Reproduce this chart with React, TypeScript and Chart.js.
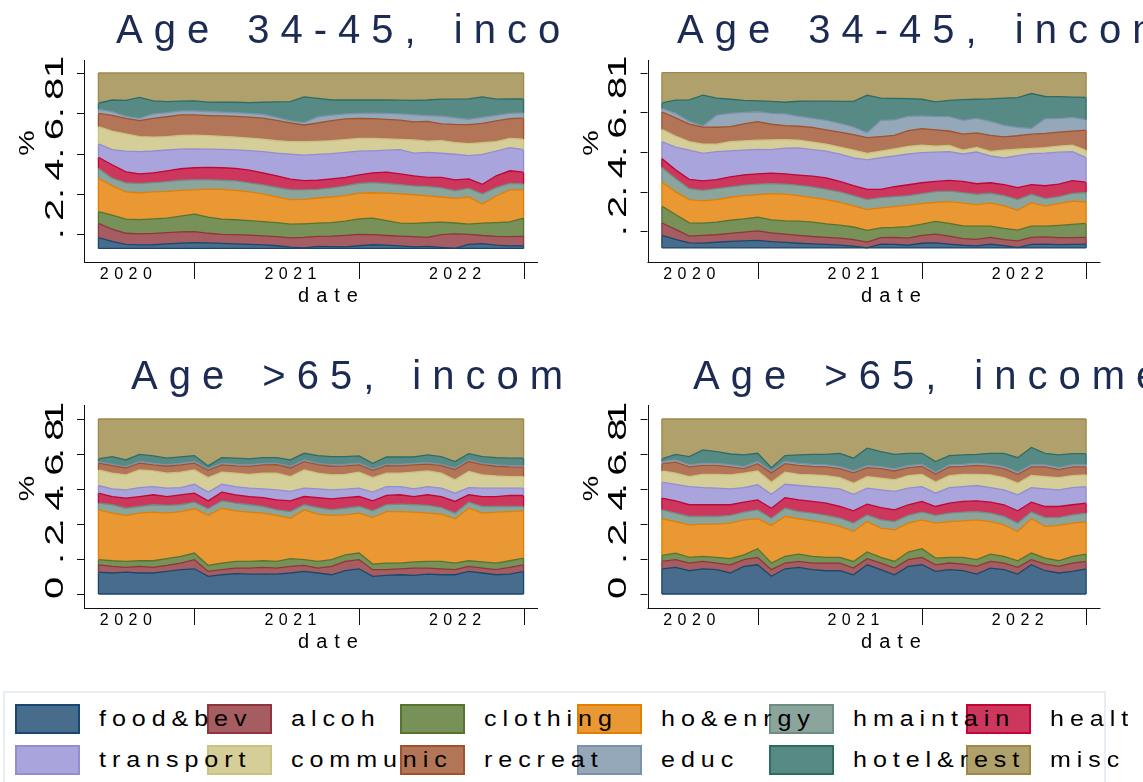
import React, { useEffect, useRef } from 'react';
import { Chart, registerables } from 'chart.js';

Chart.register(...registerables);

// ---------- data ----------
const MONTHS = [
  '2019m11', '2019m12',
  '2020m1', '2020m2', '2020m3', '2020m4', '2020m5', '2020m6', '2020m7', '2020m8', '2020m9', '2020m10', '2020m11', '2020m12',
  '2021m1', '2021m2', '2021m3', '2021m4', '2021m5', '2021m6', '2021m7', '2021m8', '2021m9', '2021m10', '2021m11', '2021m12',
  '2022m1', '2022m2', '2022m3', '2022m4', '2022m5', '2022m6',
];
const YEAR_LABELS = ['2020', '2021', '2022'];
const YEAR_LABEL_MONTHS = ['2020m1', '2021m1', '2022m1'];
const YEAR_TICK_MONTHS = ['2020m6', '2021m6', '2022m6'];

const CATEGORIES = ['food&bev', 'alcoh', 'clothing', 'ho&enrgy', 'hmaintain', 'health',
  'transport', 'communic', 'recreat', 'educ', 'hotel&rest', 'misc'];
const COLORS = ['#1a476f', '#90353b', '#55752f', '#e37e00', '#6e8e84', '#c10534',
  '#938dd2', '#cac27e', '#a0522d', '#7b92a8', '#2d6d66', '#9c8847'];

const TICKS_TOP = [0.2, 0.4, 0.6, 0.8, 1];
const TICKS_BOTTOM = [0, 0.2, 0.4, 0.6, 0.8, 1];

// cumulative shares (upper edge of each band)
const MISC_TOP = [1, 1, 1, 1, 1, 1, 1, 1, 1, 1, 1, 1, 1, 1, 1, 1, 1, 1, 1, 1, 1, 1, 1, 1, 1, 1, 1, 1, 1, 1, 1, 1];

// Age 34-45, panel 1
const TL_FOOD = [0.183,0.165,0.150,0.147,0.148,0.152,0.156,0.158,0.157,0.155,0.152,0.150,0.147,0.143,0.136,0.133,0.140,0.139,0.138,0.143,0.148,0.146,0.142,0.138,0.140,0.135,0.130,0.150,0.154,0.146,0.142,0.143];
const TL_ALCOH = [0.254,0.225,0.205,0.202,0.204,0.208,0.212,0.213,0.205,0.200,0.198,0.196,0.192,0.188,0.182,0.185,0.190,0.191,0.195,0.200,0.198,0.194,0.191,0.188,0.185,0.198,0.202,0.200,0.194,0.190,0.188,0.190];
const TL_CLOTHING = [0.312,0.295,0.275,0.273,0.276,0.280,0.290,0.300,0.285,0.275,0.272,0.268,0.263,0.258,0.250,0.252,0.255,0.258,0.265,0.276,0.280,0.268,0.255,0.254,0.258,0.260,0.256,0.250,0.255,0.258,0.262,0.280];
const TL_HOENRGY = [0.478,0.440,0.410,0.406,0.410,0.413,0.418,0.420,0.424,0.423,0.418,0.410,0.400,0.385,0.372,0.373,0.380,0.385,0.392,0.404,0.406,0.404,0.400,0.396,0.390,0.385,0.378,0.385,0.350,0.390,0.420,0.420];
const TL_HMAINTAIN = [0.527,0.478,0.455,0.452,0.456,0.461,0.468,0.470,0.470,0.468,0.465,0.455,0.445,0.432,0.421,0.420,0.423,0.430,0.440,0.452,0.456,0.452,0.446,0.440,0.437,0.430,0.416,0.428,0.400,0.432,0.452,0.450];
const TL_HEALTH = [0.582,0.545,0.510,0.500,0.505,0.515,0.525,0.530,0.532,0.530,0.527,0.518,0.505,0.490,0.474,0.466,0.468,0.475,0.482,0.495,0.505,0.508,0.500,0.490,0.482,0.482,0.470,0.475,0.448,0.490,0.515,0.508];
const TL_TRANSPORT = [0.648,0.620,0.612,0.610,0.613,0.618,0.622,0.623,0.622,0.621,0.619,0.615,0.610,0.603,0.598,0.593,0.596,0.600,0.606,0.612,0.614,0.617,0.620,0.603,0.606,0.602,0.597,0.590,0.596,0.612,0.630,0.620];
const TL_COMMUNIC = [0.734,0.712,0.698,0.684,0.682,0.684,0.690,0.692,0.689,0.686,0.682,0.677,0.672,0.664,0.660,0.659,0.661,0.664,0.670,0.676,0.676,0.673,0.671,0.668,0.662,0.665,0.655,0.650,0.654,0.660,0.676,0.672];
const TL_RECREAT = [0.800,0.790,0.775,0.764,0.775,0.783,0.792,0.792,0.789,0.787,0.785,0.781,0.776,0.765,0.752,0.742,0.752,0.764,0.772,0.775,0.774,0.770,0.766,0.758,0.760,0.748,0.745,0.744,0.750,0.762,0.774,0.776];
const TL_EDUC = [0.820,0.808,0.785,0.775,0.797,0.803,0.812,0.812,0.809,0.806,0.803,0.800,0.795,0.780,0.762,0.754,0.782,0.791,0.797,0.800,0.801,0.800,0.797,0.793,0.789,0.786,0.778,0.770,0.780,0.790,0.800,0.802];
const TL_HOTEL = [0.850,0.866,0.864,0.879,0.862,0.858,0.861,0.862,0.856,0.855,0.855,0.853,0.855,0.857,0.858,0.882,0.874,0.866,0.866,0.866,0.867,0.866,0.865,0.864,0.866,0.870,0.870,0.872,0.882,0.870,0.872,0.871];

// Age 34-45, panel 2
const TR_FOOD = [0.180,0.160,0.142,0.141,0.145,0.150,0.152,0.155,0.148,0.144,0.140,0.137,0.134,0.131,0.126,0.117,0.136,0.134,0.130,0.140,0.142,0.136,0.130,0.127,0.135,0.128,0.118,0.134,0.136,0.133,0.134,0.136];
const TR_ALCOH = [0.242,0.210,0.176,0.180,0.183,0.190,0.196,0.202,0.192,0.186,0.180,0.174,0.170,0.166,0.158,0.146,0.168,0.170,0.166,0.180,0.186,0.176,0.163,0.160,0.170,0.158,0.152,0.170,0.172,0.168,0.168,0.170];
const TR_CLOTHING = [0.327,0.285,0.243,0.242,0.247,0.256,0.263,0.272,0.258,0.253,0.252,0.247,0.238,0.231,0.222,0.205,0.218,0.220,0.224,0.236,0.250,0.240,0.228,0.226,0.226,0.215,0.206,0.226,0.226,0.230,0.235,0.240];
const TR_HOENRGY = [0.449,0.399,0.360,0.354,0.360,0.372,0.380,0.385,0.390,0.388,0.380,0.370,0.360,0.346,0.328,0.310,0.318,0.325,0.332,0.340,0.346,0.350,0.342,0.335,0.342,0.328,0.306,0.345,0.327,0.340,0.352,0.348];
const TR_HMAINTAIN = [0.522,0.466,0.415,0.407,0.415,0.424,0.433,0.438,0.441,0.438,0.432,0.424,0.412,0.399,0.380,0.360,0.370,0.375,0.380,0.390,0.400,0.403,0.395,0.387,0.392,0.380,0.360,0.387,0.365,0.375,0.392,0.396];
const TR_HEALTH = [0.567,0.510,0.462,0.455,0.461,0.475,0.485,0.490,0.494,0.490,0.484,0.478,0.470,0.452,0.430,0.412,0.412,0.425,0.435,0.445,0.452,0.457,0.452,0.440,0.445,0.436,0.421,0.436,0.430,0.438,0.456,0.448];
const TR_TRANSPORT = [0.652,0.625,0.609,0.593,0.602,0.606,0.610,0.613,0.612,0.620,0.621,0.612,0.605,0.590,0.570,0.560,0.572,0.580,0.590,0.597,0.600,0.602,0.590,0.600,0.580,0.570,0.582,0.592,0.594,0.599,0.602,0.572];
const TR_COMMUNIC = [0.714,0.680,0.652,0.640,0.640,0.652,0.656,0.660,0.661,0.663,0.660,0.650,0.640,0.625,0.610,0.593,0.605,0.616,0.628,0.635,0.630,0.633,0.610,0.623,0.603,0.609,0.614,0.618,0.622,0.630,0.635,0.609];
const TR_RECREAT = [0.803,0.772,0.741,0.726,0.725,0.728,0.742,0.753,0.740,0.733,0.730,0.724,0.712,0.700,0.688,0.673,0.678,0.684,0.708,0.718,0.712,0.706,0.690,0.697,0.684,0.676,0.682,0.690,0.694,0.700,0.705,0.710];
const TR_EDUC = [0.820,0.795,0.755,0.731,0.786,0.795,0.800,0.803,0.795,0.793,0.780,0.770,0.760,0.745,0.727,0.697,0.760,0.762,0.780,0.782,0.778,0.778,0.760,0.770,0.755,0.735,0.724,0.719,0.768,0.768,0.775,0.763];
const TR_HOTEL = [0.848,0.862,0.863,0.887,0.872,0.866,0.860,0.858,0.855,0.851,0.856,0.857,0.857,0.855,0.855,0.886,0.872,0.870,0.869,0.866,0.853,0.860,0.864,0.866,0.868,0.872,0.874,0.895,0.880,0.879,0.877,0.876];

// Age >65, panel 1
const BL_FOOD = [0.125,0.120,0.125,0.120,0.120,0.129,0.139,0.144,0.101,0.110,0.116,0.114,0.114,0.114,0.120,0.129,0.120,0.110,0.133,0.144,0.101,0.106,0.110,0.106,0.114,0.110,0.110,0.129,0.120,0.110,0.114,0.129];
const BL_ALCOH = [0.167,0.158,0.152,0.158,0.152,0.163,0.177,0.196,0.129,0.139,0.148,0.148,0.152,0.148,0.158,0.163,0.148,0.158,0.186,0.196,0.139,0.139,0.144,0.148,0.148,0.144,0.139,0.158,0.148,0.139,0.152,0.167];
const BL_CLOTHING = [0.196,0.190,0.186,0.190,0.190,0.202,0.215,0.234,0.163,0.177,0.186,0.186,0.190,0.186,0.202,0.196,0.186,0.196,0.224,0.234,0.171,0.177,0.177,0.183,0.186,0.186,0.177,0.190,0.183,0.177,0.190,0.205];
const BL_HOENRGY = [0.481,0.462,0.449,0.462,0.468,0.462,0.471,0.487,0.449,0.490,0.475,0.468,0.462,0.449,0.433,0.481,0.456,0.449,0.452,0.462,0.437,0.471,0.471,0.468,0.462,0.456,0.430,0.490,0.462,0.468,0.471,0.475];
const BL_HMAINTAIN = [0.519,0.510,0.490,0.500,0.510,0.506,0.510,0.525,0.487,0.532,0.519,0.510,0.500,0.481,0.471,0.510,0.494,0.481,0.490,0.500,0.475,0.510,0.513,0.510,0.506,0.494,0.462,0.525,0.500,0.500,0.500,0.500];
const BL_HEALTH = [0.576,0.557,0.548,0.557,0.567,0.557,0.567,0.576,0.532,0.582,0.567,0.557,0.551,0.538,0.532,0.557,0.551,0.544,0.551,0.557,0.532,0.563,0.567,0.557,0.567,0.557,0.529,0.567,0.557,0.557,0.563,0.563];
const BL_TRANSPORT = [0.620,0.601,0.595,0.608,0.614,0.605,0.608,0.627,0.582,0.627,0.614,0.605,0.601,0.595,0.586,0.605,0.601,0.595,0.599,0.605,0.582,0.614,0.614,0.601,0.614,0.605,0.576,0.608,0.605,0.605,0.605,0.605];
const BL_COMMUNIC = [0.709,0.690,0.681,0.709,0.703,0.690,0.696,0.709,0.665,0.696,0.690,0.684,0.690,0.690,0.671,0.709,0.690,0.681,0.684,0.696,0.665,0.690,0.690,0.696,0.703,0.690,0.652,0.700,0.681,0.675,0.671,0.671];
const BL_RECREAT = [0.748,0.733,0.720,0.748,0.738,0.730,0.738,0.748,0.707,0.738,0.732,0.729,0.738,0.739,0.720,0.756,0.739,0.730,0.732,0.738,0.707,0.733,0.732,0.738,0.742,0.733,0.711,0.757,0.739,0.730,0.726,0.725];
const BL_EDUC = [0.757,0.741,0.728,0.757,0.747,0.738,0.747,0.757,0.715,0.747,0.741,0.738,0.747,0.747,0.728,0.766,0.747,0.738,0.741,0.747,0.715,0.741,0.741,0.747,0.751,0.741,0.719,0.766,0.747,0.738,0.734,0.734];
const BL_HOTEL = [0.772,0.785,0.766,0.798,0.789,0.776,0.783,0.791,0.732,0.779,0.776,0.772,0.779,0.779,0.766,0.804,0.791,0.785,0.785,0.789,0.747,0.783,0.783,0.783,0.795,0.785,0.757,0.802,0.785,0.779,0.776,0.776];

// Age >65, panel 2
const BR_FOOD = [0.144,0.152,0.133,0.144,0.139,0.120,0.158,0.167,0.101,0.144,0.152,0.139,0.133,0.133,0.110,0.167,0.139,0.110,0.158,0.167,0.129,0.139,0.133,0.114,0.148,0.139,0.114,0.167,0.133,0.120,0.129,0.144];
const BR_ALCOH = [0.186,0.196,0.177,0.186,0.177,0.167,0.196,0.209,0.139,0.177,0.186,0.177,0.177,0.177,0.148,0.202,0.177,0.148,0.196,0.209,0.167,0.177,0.171,0.158,0.186,0.177,0.152,0.196,0.171,0.158,0.177,0.186];
const BR_CLOTHING = [0.221,0.234,0.209,0.215,0.209,0.202,0.224,0.259,0.177,0.215,0.228,0.215,0.209,0.209,0.186,0.240,0.209,0.186,0.240,0.259,0.205,0.209,0.209,0.196,0.228,0.215,0.190,0.234,0.205,0.190,0.215,0.228];
const BR_HOENRGY = [0.430,0.414,0.395,0.399,0.399,0.405,0.424,0.430,0.392,0.443,0.430,0.418,0.405,0.386,0.357,0.414,0.376,0.367,0.405,0.424,0.405,0.414,0.418,0.424,0.414,0.395,0.357,0.430,0.386,0.392,0.405,0.411];
const BR_HMAINTAIN = [0.481,0.462,0.443,0.443,0.443,0.449,0.468,0.481,0.433,0.490,0.471,0.462,0.449,0.433,0.405,0.452,0.424,0.414,0.449,0.468,0.449,0.462,0.468,0.471,0.462,0.443,0.405,0.468,0.437,0.437,0.452,0.462];
const BR_HEALTH = [0.548,0.532,0.510,0.510,0.510,0.510,0.525,0.538,0.490,0.551,0.538,0.529,0.519,0.500,0.475,0.513,0.494,0.481,0.510,0.529,0.500,0.519,0.529,0.532,0.525,0.510,0.475,0.525,0.500,0.500,0.510,0.519];
const BR_TRANSPORT = [0.639,0.627,0.614,0.608,0.605,0.601,0.608,0.624,0.570,0.627,0.620,0.614,0.608,0.601,0.570,0.605,0.595,0.586,0.605,0.614,0.576,0.608,0.614,0.620,0.608,0.595,0.567,0.608,0.601,0.595,0.608,0.614];
const BR_COMMUNIC = [0.703,0.690,0.671,0.684,0.684,0.681,0.690,0.703,0.639,0.696,0.684,0.681,0.677,0.665,0.633,0.671,0.662,0.652,0.677,0.684,0.639,0.677,0.684,0.684,0.681,0.665,0.633,0.677,0.671,0.665,0.677,0.681];
const BR_RECREAT = [0.745,0.754,0.726,0.735,0.735,0.727,0.716,0.745,0.692,0.745,0.735,0.729,0.726,0.716,0.692,0.722,0.716,0.703,0.722,0.729,0.685,0.726,0.729,0.735,0.729,0.716,0.684,0.726,0.726,0.711,0.726,0.726];
const BR_EDUC = [0.757,0.766,0.738,0.747,0.747,0.738,0.728,0.757,0.703,0.757,0.747,0.741,0.738,0.728,0.703,0.734,0.728,0.715,0.734,0.741,0.696,0.738,0.741,0.747,0.741,0.728,0.696,0.738,0.738,0.722,0.738,0.738];
const BR_HOTEL = [0.772,0.798,0.785,0.823,0.814,0.800,0.795,0.804,0.722,0.791,0.795,0.798,0.798,0.804,0.776,0.833,0.814,0.798,0.804,0.804,0.757,0.791,0.795,0.798,0.804,0.804,0.779,0.837,0.804,0.795,0.802,0.802];

// ---------- styling / layout ----------
const FONT = '"Liberation Sans", Arial, Helvetica, sans-serif';
const TITLE_COLOR = '#1c2b54';
const LEGEND_COL_X = [14.5, 207.3, 400, 576.7, 768.7, 966];

function tint(hex: string, a = 0.8) {
  const r = parseInt(hex.slice(1, 3), 16);
  const g = parseInt(hex.slice(3, 5), 16);
  const b = parseInt(hex.slice(5, 7), 16);
  const m = (c: number) => Math.round(c * a + 255 * (1 - a));
  return `rgb(${m(r)},${m(g)},${m(b)})`;
}

function tickLabel(v: number) {
  if (v === 0) return '0';
  if (v === 1) return '1';
  return '.' + Math.round(v * 10);
}

type PanelDef = {
  key: string;
  title: string;
  titleX: number;
  left: number; top: number; w: number; h: number;
  pad: { left: number; right: number; top: number; bottom: number };
  yMin: number; yMax: number;
  ticks: number[];
  base: number;
  series: number[][];
};

const PANELS: PanelDef[] = [
  {
    key: 'tl', title: 'Age 34-45, income', titleX: 116,
    left: 0, top: 0, w: 562, h: 346,
    pad: { left: 84, right: 24, top: 60, bottom: 84 },
    yMin: 0.0625, yMax: 1.0645, ticks: TICKS_TOP, base: Math.min(...TL_FOOD),
    series: [TL_FOOD, TL_ALCOH, TL_CLOTHING, TL_HOENRGY, TL_HMAINTAIN, TL_HEALTH, TL_TRANSPORT, TL_COMMUNIC, TL_RECREAT, TL_EDUC, TL_HOTEL, MISC_TOP],
  },
  {
    key: 'tr', title: 'Age 34-45, income', titleX: 115,
    left: 562, top: 0, w: 581, h: 346,
    pad: { left: 85.5, right: 42.5, top: 60, bottom: 84 },
    yMin: 0.0455, yMax: 1.064, ticks: TICKS_TOP, base: Math.min(...TR_FOOD),
    series: [TR_FOOD, TR_ALCOH, TR_CLOTHING, TR_HOENRGY, TR_HMAINTAIN, TR_HEALTH, TR_TRANSPORT, TR_COMMUNIC, TR_RECREAT, TR_EDUC, TR_HOTEL, MISC_TOP],
  },
  {
    key: 'bl', title: 'Age >65, income', titleX: 131,
    left: 0, top: 346, w: 562, h: 346,
    pad: { left: 84, right: 24, top: 59, bottom: 84 },
    yMin: -0.08, yMax: 1.08, ticks: TICKS_BOTTOM, base: 0,
    series: [BL_FOOD, BL_ALCOH, BL_CLOTHING, BL_HOENRGY, BL_HMAINTAIN, BL_HEALTH, BL_TRANSPORT, BL_COMMUNIC, BL_RECREAT, BL_EDUC, BL_HOTEL, MISC_TOP],
  },
  {
    key: 'br', title: 'Age >65, income', titleX: 131,
    left: 562, top: 346, w: 581, h: 346,
    pad: { left: 85.5, right: 42.5, top: 59, bottom: 84 },
    yMin: -0.08, yMax: 1.08, ticks: TICKS_BOTTOM, base: 0,
    series: [BR_FOOD, BR_ALCOH, BR_CLOTHING, BR_HOENRGY, BR_HMAINTAIN, BR_HEALTH, BR_TRANSPORT, BR_COMMUNIC, BR_RECREAT, BR_EDUC, BR_HOTEL, MISC_TOP],
  },
];

function setSpacing(ctx: any, ls: number, ws = 0) {
  ctx.letterSpacing = ls + 'px';
  ctx.wordSpacing = ws + 'px';
}

function makeDecor(panel: PanelDef) {
  return {
    id: 'stataDecor_' + panel.key,
    afterDatasetsDraw(chart: any) {
      const ctx = chart.ctx as CanvasRenderingContext2D;
      const xs = chart.scales.x;
      const ys = chart.scales.y;
      const n = MONTHS.length;
      ctx.save();
      ctx.lineWidth = 1.3;
      // area outlines on the left / right vertical edges and along the base
      panel.series.forEach((arr, k) => {
        [0, n - 1].forEach((i) => {
          const px = xs.getPixelForValue(i);
          const yTop = ys.getPixelForValue(arr[i]);
          const yLow = ys.getPixelForValue(k === 0 ? panel.base : panel.series[k - 1][i]);
          ctx.strokeStyle = COLORS[k];
          ctx.beginPath();
          ctx.moveTo(px, yLow);
          ctx.lineTo(px, yTop);
          ctx.stroke();
        });
      });
      ctx.strokeStyle = COLORS[0];
      ctx.beginPath();
      ctx.moveTo(xs.getPixelForValue(0), ys.getPixelForValue(panel.base));
      ctx.lineTo(xs.getPixelForValue(n - 1), ys.getPixelForValue(panel.base));
      ctx.stroke();
      ctx.restore();
    },
    afterDraw(chart: any) {
      const ctx = chart.ctx as any;
      const a = chart.chartArea;
      const xs = chart.scales.x;
      const ys = chart.scales.y;
      ctx.save();
      // axis lines
      ctx.strokeStyle = '#111';
      ctx.lineWidth = 1;
      ctx.beginPath();
      ctx.moveTo(Math.round(a.left) + 0.5, a.top);
      ctx.lineTo(Math.round(a.left) + 0.5, a.bottom + 0.5);
      ctx.moveTo(a.left, Math.round(a.bottom) + 0.5);
      ctx.lineTo(a.right, Math.round(a.bottom) + 0.5);
      ctx.stroke();
      // y ticks
      ctx.beginPath();
      panel.ticks.forEach((v) => {
        const py = Math.round(ys.getPixelForValue(v)) + 0.5;
        ctx.moveTo(a.left - 7, py);
        ctx.lineTo(a.left, py);
      });
      // x ticks
      YEAR_TICK_MONTHS.forEach((m) => {
        const px = Math.round(xs.getPixelForValue(MONTHS.indexOf(m))) + 0.5;
        ctx.moveTo(px, a.bottom);
        ctx.lineTo(px, a.bottom + 17);
      });
      ctx.stroke();

      ctx.fillStyle = '#000';
      ctx.textAlign = 'left';
      ctx.textBaseline = 'alphabetic';
      // y tick labels (rotated)
      ctx.font = `25px ${FONT}`;
      setSpacing(ctx, 4.5);
      panel.ticks.forEach((v) => {
        ctx.save();
        ctx.translate(a.left - 21.5, ys.getPixelForValue(v) + 5);
        ctx.rotate(-Math.PI / 2);
        ctx.scale(1.6, 1);
        ctx.fillText(tickLabel(v), 0, 0);
        ctx.restore();
      });
      // y axis title
      ctx.font = `22px ${FONT}`;
      setSpacing(ctx, 0);
      ctx.save();
      ctx.translate(a.left - 50, (a.top + a.bottom) / 2 - 18);
      ctx.rotate(-Math.PI / 2);
      ctx.scale(1.3, 1);
      ctx.textAlign = 'center';
      ctx.fillText('%', 0, 0);
      ctx.restore();
      // year labels
      ctx.font = `16px ${FONT}`;
      setSpacing(ctx, 5.5);
      YEAR_LABELS.forEach((lab, j) => {
        const px = xs.getPixelForValue(MONTHS.indexOf(YEAR_LABEL_MONTHS[j]));
        const w = ctx.measureText(lab).width - 5.5;
        ctx.fillText(lab, px - w / 2, a.bottom + 17);
      });
      // x axis title
      ctx.font = `20px ${FONT}`;
      setSpacing(ctx, 7);
      {
        const w = ctx.measureText('date').width - 7;
        ctx.fillText('date', (a.left + a.right) / 2 + 17 - w / 2, a.bottom + 39.5);
      }
      // panel title
      ctx.font = `40px ${FONT}`;
      setSpacing(ctx, 11, 5);
      ctx.fillStyle = TITLE_COLOR;
      ctx.fillText(panel.title, panel.titleX, 43);
      setSpacing(ctx, 0, 0);
      ctx.restore();
    },
  };
}

function Panel({ panel }: { panel: PanelDef }) {
  const ref = useRef<HTMLCanvasElement>(null);
  useEffect(() => {
    if (!ref.current) return;
    const datasets = panel.series.map((arr, k) => ({
      label: CATEGORIES[k],
      data: arr.map((v, i) => ({ x: i, y: v })),
      borderColor: COLORS[k],
      backgroundColor: tint(COLORS[k]),
      borderWidth: 1.3,
      pointRadius: 0,
      tension: 0,
      fill: { value: panel.base },
    }));
    const chart = new Chart(ref.current, {
      type: 'line',
      data: { datasets },
      options: {
        animation: false,
        responsive: false,
        maintainAspectRatio: false,
        events: [],
        layout: { padding: panel.pad },
        scales: {
          x: { type: 'linear', display: false, min: -1.05, max: MONTHS.length + 0.05 },
          y: { type: 'linear', display: false, min: panel.yMin, max: panel.yMax },
        },
        plugins: {
          legend: { display: false },
          tooltip: { enabled: false },
          title: { display: false },
        },
      },
      plugins: [makeDecor(panel)],
    } as any);
    return () => chart.destroy();
  }, [panel]);
  return (
    <canvas
      ref={ref}
      width={panel.w}
      height={panel.h}
      style={{ position: 'absolute', left: panel.left, top: panel.top, width: panel.w, height: panel.h }}
    />
  );
}

function Legend() {
  return (
    <div style={{ position: 'absolute', left: 0, top: 0, width: 1134, height: 782, overflow: 'hidden' }}>
      <div
        style={{
          position: 'absolute', left: 3, top: 691, width: 1103, height: 120,
          border: '2px solid #e6edf3', boxSizing: 'border-box', background: '#fff',
        }}
      />
      {CATEGORIES.map((c, k) => {
        const row = Math.floor(k / 6);
        const col = k % 6;
        return (
          <div
            key={'sw' + c}
            style={{
              position: 'absolute', left: LEGEND_COL_X[col], top: row === 0 ? 704 : 745,
              width: 65, height: 30, boxSizing: 'border-box',
              border: `2px solid ${COLORS[k]}`, background: tint(COLORS[k]),
            }}
          />
        );
      })}
      {CATEGORIES.map((c, k) => {
        const row = Math.floor(k / 6);
        const col = k % 6;
        return (
          <div
            key={'tx' + c}
            style={{
              position: 'absolute', left: LEGEND_COL_X[col] + 84, top: (row === 0 ? 727 : 768) - 18.6,
              fontFamily: FONT, fontSize: 22, lineHeight: '22px', letterSpacing: '5.2px',
              whiteSpace: 'nowrap', color: '#000', transform: 'scaleX(1.14)', transformOrigin: '0 0',
            }}
          >
            {c}
          </div>
        );
      })}
    </div>
  );
}

export default function App() {
  return (
    <div style={{ position: 'absolute', left: 0, top: 0, width: 1143, height: 782, overflow: 'hidden', background: '#fff' }}>
      {PANELS.map((p) => (
        <Panel key={p.key} panel={p} />
      ))}
      <Legend />
    </div>
  );
}
